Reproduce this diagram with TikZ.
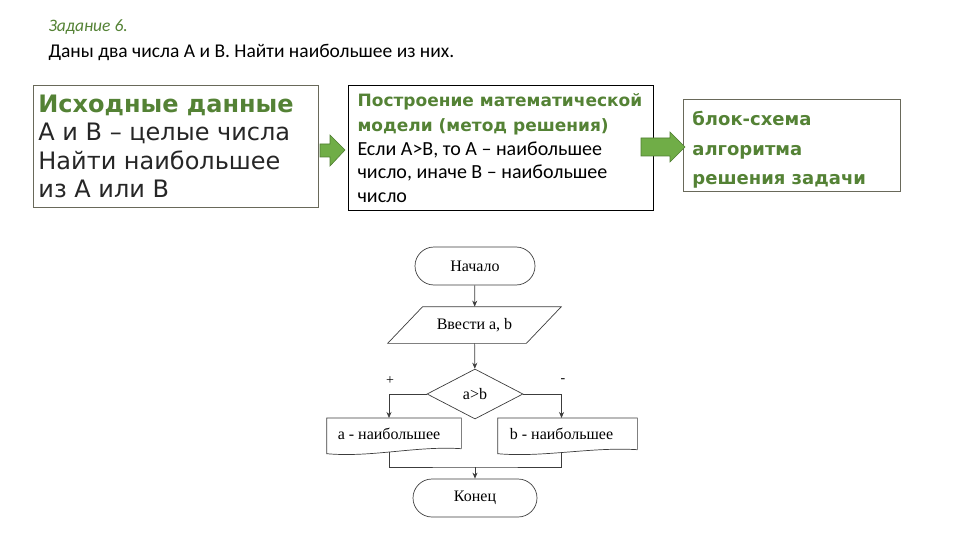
\documentclass[tikz,border=0pt]{standalone}
\usepackage{fontspec}
\setmainfont{Carlito}
\newfontfamily\verdfont{DejaVu Sans}
\newfontfamily\serfont{Liberation Serif}
\usetikzlibrary{shapes.geometric,arrows.meta}
\definecolor{taskgreen}{RGB}{84,130,53}
\definecolor{arrowgreen}{RGB}{112,173,71}
\definecolor{arrowedge}{RGB}{80,126,50}
\definecolor{boxgray}{RGB}{105,105,90}
\definecolor{flowgray}{RGB}{60,60,60}
\newcommand{\normspace}{\spaceskip=0pt \xspaceskip=0pt }
\tikzset{
  infobox/.style={draw=boxgray, line width=0.8pt, anchor=north west, align=left},
  flow/.style={line width=0.7pt, font=\serfont\fontsize{16}{18}\selectfont},
  flowline/.style={draw=flowgray, line width=0.7pt, -{Stealth[length=6pt,width=5pt]}},
  bigarrow/.style={fill=arrowgreen, draw=arrowedge, line width=0.6pt},
}

\begin{document}
\begin{tikzpicture}[x=1pt,y=-1pt]
    \useasboundingbox (0,0) rectangle (960,540);
    \node[anchor=west, text=taskgreen, font=\itshape\fontsize{17.5}{22}\selectfont] (task) at (45,27) {Задание 6.};
    \node[anchor=west, font=\fontsize{19.5}{22}\selectfont] (cond) at (45,52) {Даны два числа А и В. Найти наибольшее из них.};

    \node[infobox, inner xsep=5pt, text width=275pt, minimum height=122pt] (data) at (33,85)
      {{\verdfont\bfseries\color{taskgreen}\fontsize{24}{28.5}\selectfont\normspace Исходные данные\par}
       {\verdfont\color{black!85}\fontsize{24}{28.5}\selectfont\normspace А и В – целые числа\\ Найти наибольшее\\ из А или В\par}};
    \node[infobox, draw=black, line width=1.2pt, inner xsep=9pt, text width=287pt, minimum height=125pt] (model) at (348,85)
      {{\verdfont\bfseries\color{taskgreen}\fontsize{17}{25}\selectfont\normspace Построение математической\\ модели (метод решения)\par}
       {\fontsize{20}{23.5}\selectfont\normspace Если А>В, то А – наибольшее\\ число, иначе В – наибольшее\\ число\par}};
    \node[infobox, inner xsep=9pt, text width=199pt, minimum height=92pt] (scheme) at (683,99)
      {{\verdfont\bfseries\color{taskgreen}\fontsize{18}{29.5}\selectfont\normspace \rule{0pt}{23pt}блок-схема\\ алгоритма\\ решения задачи\par}};

    \draw[bigarrow] (320,144) -- (330,144) -- (330,135) -- (345,150) -- (330,166) -- (330,157) -- (320,157) -- cycle;
    \draw[bigarrow] (641,138) -- (670,138) -- (670,132) -- (685,147) -- (670,162) -- (670,156) -- (641,156) -- cycle;

    \node[flow, draw=flowgray, rounded corners=19pt, minimum width=120pt, minimum height=38pt] (start) at (475,266) {Начало};
    \node[flow, minimum width=138pt, minimum height=36pt] (input) at (474.5,325) {Ввести a, b};
    \node[flow, draw=flowgray, diamond, aspect=1.92, minimum width=96pt, minimum height=50pt, inner sep=0pt] (cmp) at (475,394) {a>b};
    \node[flow, minimum width=124pt, minimum height=30pt, anchor=north] (amax) at (389,418) {a - наибольшее};
    \node[flow, minimum width=127pt, minimum height=31pt, anchor=north] (bmax) at (561.5,418) {b - наибольшее};
    \node[flow, draw=flowgray, rounded corners=19pt, minimum width=124pt, minimum height=38pt] (stop) at (475,498) {Конец};
    \node[font=\serfont\fontsize{14}{16}\selectfont] (plus) at (390,381) {+};
    \node[font=\serfont\fontsize{14}{16}\selectfont] (minus) at (563,381) {-};

    % parallelogram and document shapes
    \draw[flow, draw=flowgray] ([xshift=17.5pt]input.north west) -- ([xshift=17.5pt]input.north east)
      -- ([xshift=-17.5pt]input.south east) -- ([xshift=-17.5pt]input.south west) -- cycle;
    \draw[flow, draw=flowgray] ([xshift=10pt]amax.south east) -- ([xshift=10pt]amax.north east) -- (amax.north west) -- ([yshift=-5pt]amax.south west)
      .. controls +(45,4) and +(-45,-3) .. ([xshift=10pt]amax.south east);
    \draw[flow, draw=flowgray] ([xshift=12pt]bmax.south east) -- ([xshift=12pt]bmax.north east) -- (bmax.north west) -- ([yshift=-4pt]bmax.south west)
      .. controls +(45,4) and +(-45,-3) .. ([xshift=12pt]bmax.south east);

    \coordinate (join) at (475,467);

    \draw[flowline] (start) -- (input);
    \draw[flowline] (input) -- (cmp);
    \draw[flowline] (cmp.west) -| (amax.north);
    \draw[flowline] (cmp.east) -| (bmax.north);
    \draw[flowline, -] ([yshift=-3pt]amax.south) |- (join) -| ([yshift=-2pt]bmax.south);
    \draw[flowline] (join) -- (stop);
\end{tikzpicture}
\end{document}
